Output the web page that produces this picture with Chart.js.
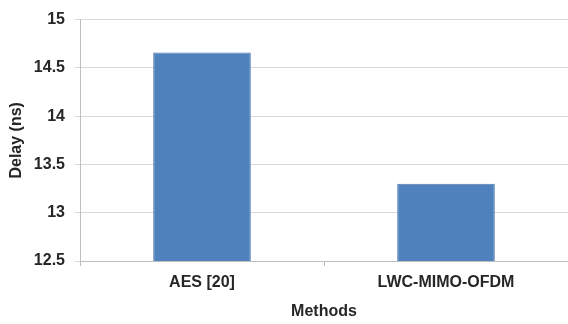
<!DOCTYPE html>
<html lang="en">
<head>
  <meta charset="UTF-8" />
  <title>Delay by method</title>
  <script src="https://cdn.jsdelivr.net/npm/chart.js"></script>
  <style>
    html, body { margin: 0; padding: 0; background: #fff; }
    #wrap { width: 568px; height: 324px; position: relative; }
  </style>
</head>
<body>
  <div id="wrap"><canvas id="delayChart"></canvas></div>
  <script>
    const methods = ['AES [20]', 'LWC-MIMO-OFDM'];
    const delayNs = [14.66, 13.30];
    const yMin = 12.5, yMax = 15, yStep = 0.5;

    const textColor = '#262626';
    const font = { family: "'Liberation Sans', Arial, sans-serif", weight: 'bold', size: 16 };

    new Chart(document.getElementById('delayChart').getContext('2d'), {
      type: 'bar',
      data: {
        labels: methods,
        datasets: [{
          label: 'Delay (ns)',
          data: delayNs,
          backgroundColor: '#4f81bd',
          borderColor: '#4a7ab3',
          borderWidth: 1,
          categoryPercentage: 1,
          barPercentage: 0.4
        }]
      },
      options: {
        responsive: true,
        maintainAspectRatio: false,
        animation: false,
        layout: { padding: { top: 19, right: 0, left: 0, bottom: 0 } },
        plugins: { legend: { display: false }, tooltip: { enabled: false } },
        scales: {
          x: {
            afterFit: s => { s.height = 63; },
            grid: { drawOnChartArea: false, offset: true, tickLength: 5, color: '#bfbfbf' },
            border: { color: '#bfbfbf' },
            ticks: { color: textColor, font: font, padding: 7 },
            title: { display: true, text: 'Methods', color: textColor, font: font, padding: { top: 0, bottom: 3 } }
          },
          y: {
            min: yMin,
            max: yMax,
            afterFit: s => { s.width = 80; },
            grid: { color: '#d9d9d9', tickLength: 5 },
            border: { color: '#bfbfbf' },
            ticks: { stepSize: yStep, color: textColor, font: font, padding: 10, callback: v => String(v) },
            title: { display: true, text: 'Delay (ns)', color: textColor, font: font, padding: { top: 7, bottom: 0 } }
          }
        }
      }
    });
  </script>
</body>
</html>
